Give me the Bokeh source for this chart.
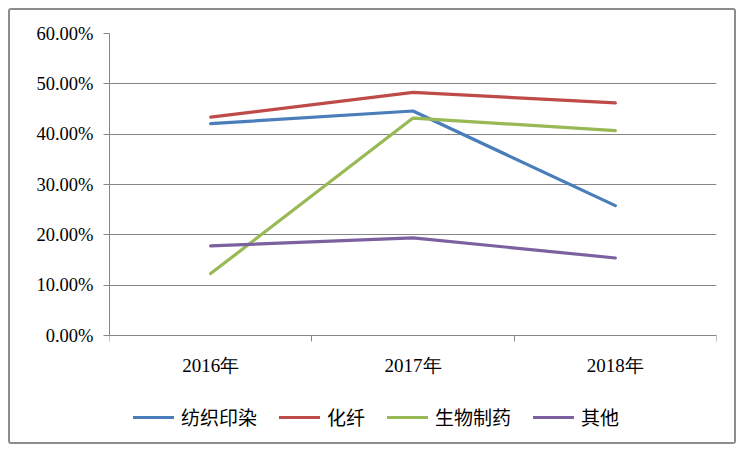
import numpy as np
from bokeh.plotting import figure
from bokeh.models import (FixedTicker, NumeralTickFormatter, Legend, LegendItem,
                          Range1d, ColumnDataSource)
from bokeh.embed import file_html
from bokeh.resources import INLINE

categories = ["2016年", "2017年", "2018年"]
textile = [0.421, 0.446, 0.258]     # 纺织印染
fiber = [0.434, 0.483, 0.462]       # 化纤
biopharma = [0.123, 0.432, 0.407]   # 生物制药
other = [0.178, 0.194, 0.154]       # 其他
series_names = ["纺织印染", "化纤", "生物制药", "其他"]
colors = ["#4A7EBB", "#BE4B48", "#98B954", "#7D60A0"]
y_ticks = [0.0, 0.1, 0.2, 0.3, 0.4, 0.5, 0.6]

xs = list(np.arange(len(categories)) + 0.5)

# frame spans down to the bottom so the legend can sit inside it;
# value 0 sits 111px above the frame bottom (302px for 0..60%)
y_max = 0.6
y_min = -y_max * 111 / 302

p = figure(width=728, height=436, output_backend="svg",
           toolbar_location=None,
           x_range=Range1d(0, len(categories)), y_range=Range1d(y_min, y_max),
           min_border_left=99, min_border_right=22, min_border_top=23,
           min_border_bottom=0)
p.styles = {"border": "2px solid #8c8c8c", "border-radius": "3px",
            "margin-left": "8px", "margin-top": "8px"}
p.outline_line_color = None
p.background_fill_color = "white"
p.border_fill_color = "white"

renderers = []
for name, vals, c in zip(series_names, [textile, fiber, biopharma, other], colors):
    src = ColumnDataSource(dict(x=xs, y=vals))
    r = p.line("x", "y", source=src, line_color=c, line_width=3.2,
               line_join="round", line_cap="round")
    renderers.append((name, r))

# y axis
p.yaxis.ticker = FixedTicker(ticks=y_ticks)
p.yaxis.bounds = (0, y_max)
p.yaxis.formatter = NumeralTickFormatter(format="0.00%")
p.yaxis.axis_line_color = "#868686"
p.yaxis.major_tick_line_color = "#868686"
p.yaxis.major_tick_out = 6
p.yaxis.major_tick_in = 0
p.yaxis.minor_tick_line_color = None
p.yaxis.major_label_standoff = 10
p.yaxis.major_label_text_font = "Liberation Serif"
p.yaxis.major_label_text_font_size = "18.5px"
p.yaxis.major_label_text_color = "#000000"

# x axis, drawn at value 0
p.xaxis.fixed_location = 0
p.xaxis.ticker = FixedTicker(ticks=xs, minor_ticks=list(range(len(categories) + 1)))
p.xaxis.major_label_overrides = {x: c for x, c in zip(xs, categories)}
p.xaxis.axis_line_color = "#868686"
p.xaxis.major_tick_line_color = None
p.xaxis.minor_tick_line_color = "#868686"
p.xaxis.minor_tick_out = 6
p.xaxis.minor_tick_in = 0
p.xaxis.major_label_standoff = 13
p.xaxis.major_label_text_font = "Liberation Serif"
p.xaxis.major_label_text_font_size = "19px"
p.xaxis.major_label_text_color = "#000000"

p.xgrid.grid_line_color = None
p.ygrid.ticker = FixedTicker(ticks=y_ticks)
p.ygrid.grid_line_color = "#868686"
p.ygrid.grid_line_width = 1

legend = Legend(items=[LegendItem(label=n, renderers=[r]) for n, r in renderers],
                orientation="horizontal", location=(24, 16))
legend.border_line_color = None
legend.background_fill_alpha = 0
legend.padding = 0
legend.margin = 0
legend.glyph_width = 41
legend.glyph_height = 22
legend.label_height = 22
legend.label_standoff = 7
legend.spacing = 22
legend.label_text_font = "Noto Sans CJK SC"
legend.label_text_font_size = "19px"
legend.label_text_color = "#000000"
p.add_layout(legend, "center")

open("out.html", "w").write(file_html(p, INLINE))
